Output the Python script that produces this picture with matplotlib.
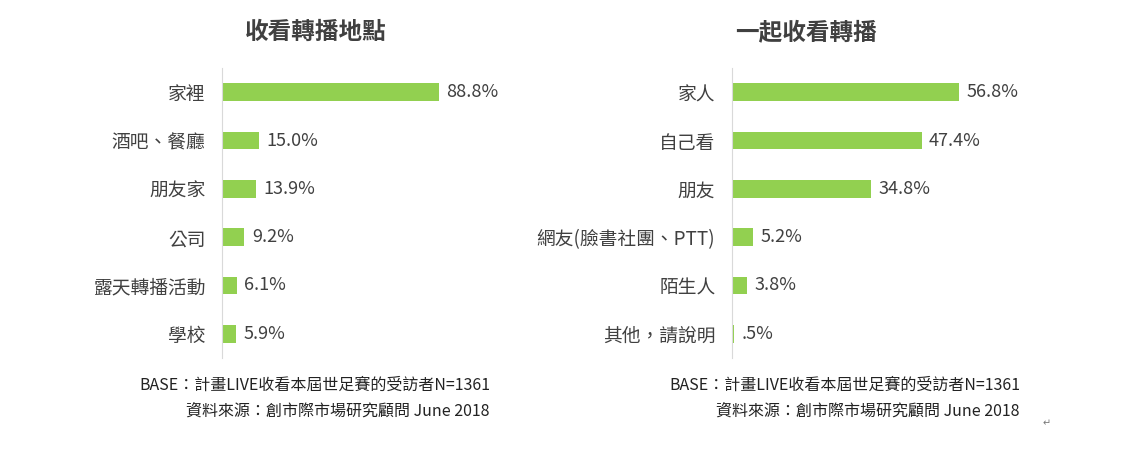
import matplotlib
matplotlib.use("Agg")
import matplotlib.pyplot as plt

plt.rcParams['font.family'] = ['Noto Sans CJK TC', 'DejaVu Sans']

# data
place_labels = ['家裡', '酒吧、餐廳', '朋友家', '公司', '露天轉播活動', '學校']
place_values = [88.8, 15.0, 13.9, 9.2, 6.1, 5.9]
place_text = ['88.8%', '15.0%', '13.9%', '9.2%', '6.1%', '5.9%']

with_labels = ['家人', '自己看', '朋友', '網友(臉書社團、PTT)', '陌生人', '其他，請說明']
with_values = [56.8, 47.4, 34.8, 5.2, 3.8, 0.5]
with_text = ['56.8%', '47.4%', '34.8%', '5.2%', '3.8%', '.5%']

W, H = 1136, 462
GREEN = '#92D050'
TXT = '#404040'
fig = plt.figure(figsize=(W / 100, H / 100), dpi=100)


def panel(x0, xmax, labels, values, texts, title, title_x, note_x):
    ax = fig.add_axes([x0 / W, 1 - 358 / H, 300 / W, 290 / H])
    y = list(range(len(labels)))
    ax.barh(y, values, height=0.37, color=GREEN)
    for yi, v, t in zip(y, values, texts):
        ax.text(v + xmax * 0.025, yi, t, va='center', ha='left', fontsize=13, color=TXT)
    ax.set_yticks(y)
    ax.set_yticklabels(labels, fontsize=13.5, color=TXT)
    ax.tick_params(axis='y', length=0, pad=12)
    ax.set_xticks([])
    ax.set_ylim(len(labels) - 0.5, -0.5)
    ax.set_xlim(0, xmax)
    for s in ['top', 'right', 'bottom']:
        ax.spines[s].set_visible(False)
    ax.spines['left'].set_color('#D9D9D9')
    fig.text(title_x / W, 1 - 32 / H, title, ha='center', va='center',
             fontsize=17, fontweight='bold', color=TXT)
    fig.text(note_x / W, 1 - 385 / H, 'BASE：計畫LIVE收看本屆世足賽的受訪者N=1361',
             ha='right', va='center', fontsize=11.5, color='#222222')
    fig.text(note_x / W, 1 - 411 / H, '資料來源：創市際市場研究顧問 June 2018',
             ha='right', va='center', fontsize=11.5, color='#222222')


panel(222, 300 / 2.444, place_labels, place_values, place_text, '收看轉播地點', 316, 490)
panel(732, 300 / 4.0, with_labels, with_values, with_text, '一起收看轉播', 806, 1020)
fig.text(1047 / W, 1 - 423 / H, '↵', ha='center', va='center', fontsize=7,
         color='#777777', family='DejaVu Sans')

fig.savefig('out.png', dpi=100)
